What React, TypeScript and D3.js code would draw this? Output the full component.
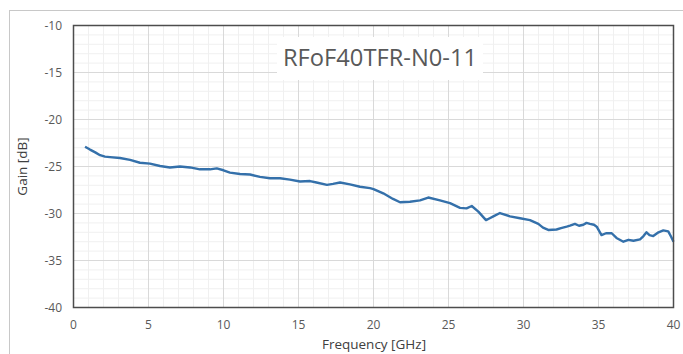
import React from "react";
import * as d3 from "d3";

const freqGHz = [
  0.77, 1.1, 1.45, 1.77, 2.1, 2.43, 3.1, 3.77, 4.43, 5.1, 5.77, 6.43, 7.1, 7.77, 8.43, 9.1, 9.55, 10.0,
  10.43, 11.1, 11.77, 12.43, 13.1, 13.77, 14.43, 15.1, 15.77, 16.2, 16.9, 17.3, 17.77, 18.43, 19.1,
  19.77, 20.0, 20.65, 21.3, 21.77, 22.43, 23.1, 23.65, 24.43, 25.1, 25.77, 26.2, 26.55, 26.99, 27.5,
  27.75, 27.99, 28.43, 29.1, 29.77, 30.43, 30.99, 31.3, 31.65, 32.2, 32.5, 32.88, 33.1, 33.43, 33.7,
  33.99, 34.2, 34.43, 34.7, 34.88, 35.2, 35.5, 35.88, 36.2, 36.66, 37.0, 37.33, 37.77, 38.0, 38.2,
  38.4, 38.65, 39.0, 39.32, 39.65, 39.85, 40.0,
];
const gainDb = [
  -22.9, -23.2, -23.5, -23.8, -23.95, -24.0, -24.1, -24.3, -24.6, -24.7, -24.95, -25.1, -25.0, -25.1,
  -25.3, -25.3, -25.2, -25.4, -25.65, -25.8, -25.85, -26.1, -26.25, -26.25, -26.4, -26.6, -26.55,
  -26.7, -26.95, -26.85, -26.7, -26.9, -27.15, -27.3, -27.4, -27.85, -28.45, -28.8, -28.75, -28.6,
  -28.3, -28.6, -28.9, -29.4, -29.45, -29.2, -29.8, -30.7, -30.5, -30.3, -29.95, -30.3, -30.5, -30.7,
  -31.1, -31.5, -31.75, -31.7, -31.55, -31.4, -31.3, -31.1, -31.3, -31.2, -31.0, -31.1, -31.2, -31.4,
  -32.3, -32.1, -32.1, -32.6, -33.0, -32.8, -32.9, -32.75, -32.4, -32.0, -32.3, -32.4, -32.0, -31.8,
  -31.9, -32.5, -33.0,
];
const xTicks = [0, 5, 10, 15, 20, 25, 30, 35, 40];
const yTicks = [-40, -35, -30, -25, -20, -15, -10];
const titleText = "RFoF40TFR-N0-11";
const xTitle = "Frequency [GHz]";
const yTitle = "Gain [dB]";

export default function App() {
  const x = d3.scaleLinear().domain([0, 40]).range([73.5, 673.5]);
  const y = d3.scaleLinear().domain([-40, -10]).range([307.5, 25.5]);
  const minorX = d3.range(0, 41, 1);
  const minorY = d3.range(-40, -9, 1);
  const pts = freqGHz.map((f, i) => [f, gainDb[i]] as [number, number]);
  const line = d3
    .line<[number, number]>()
    .x((d) => x(d[0]))
    .y((d) => y(d[1]))
    .curve(d3.curveLinear);
  const font = "'Open Sans', 'Liberation Sans', sans-serif";
  const [x0, x1] = x.range();
  const [y0, y1] = y.range();
  return (
    <svg
      width={683}
      height={354}
      style={{ position: "absolute", left: 0, top: 0, background: "#fff" }}
    >
      <rect x={9.5} y={10.5} width={700} height={400} fill="#fff" stroke="#c8c8c8" strokeWidth={1} />
      {minorX.map((t) => (
        <line key={"mx" + t} x1={x(t)} x2={x(t)} y1={y1} y2={y0} stroke="#f0f0f0" strokeWidth={1} />
      ))}
      {minorY.map((t) => (
        <line key={"my" + t} x1={x0} x2={x1} y1={y(t)} y2={y(t)} stroke="#f0f0f0" strokeWidth={1} />
      ))}
      {xTicks.map((t) => (
        <line key={"gx" + t} x1={x(t)} x2={x(t)} y1={y1} y2={y0} stroke="#d9d9d9" strokeWidth={1} />
      ))}
      {yTicks.map((t) => (
        <line key={"gy" + t} x1={x0} x2={x1} y1={y(t)} y2={y(t)} stroke="#d9d9d9" strokeWidth={1} />
      ))}
      <rect x={277} y={37} width={206} height={43} fill="#fff" />
      <text
        x={380}
        y={66}
        textAnchor="middle"
        fontFamily={font}
        fontSize={24}
        fill="#595959"
        textLength={194}
        lengthAdjust="spacingAndGlyphs"
      >
        {titleText}
      </text>
      <path d={line(pts) || ""} fill="none" stroke="#3470aa" strokeWidth={2.4} strokeLinejoin="round" />
      <rect x={x0} y={y1} width={x1 - x0} height={y0 - y1} fill="none" stroke="#4d4d4d" strokeWidth={1.5} />
      {yTicks.map((t) => (
        <text
          key={"ty" + t}
          x={62}
          y={y(t)}
          dy="0.35em"
          textAnchor="end"
          fontFamily={font}
          fontSize={12}
          fill="#595959"
        >
          {t}
        </text>
      ))}
      {xTicks.map((t) => (
        <text
          key={"tx" + t}
          x={x(t)}
          y={329}
          textAnchor="middle"
          fontFamily={font}
          fontSize={12}
          fill="#595959"
        >
          {t}
        </text>
      ))}
      <text x={374} y={349} textAnchor="middle" fontFamily={font} fontSize={13.5} fill="#404040">
        {xTitle}
      </text>
      <text
        transform={`translate(27,${(y0 + y1) / 2}) rotate(-90)`}
        textAnchor="middle"
        fontFamily={font}
        fontSize={13.5}
        fill="#404040"
      >
        {yTitle}
      </text>
    </svg>
  );
}
